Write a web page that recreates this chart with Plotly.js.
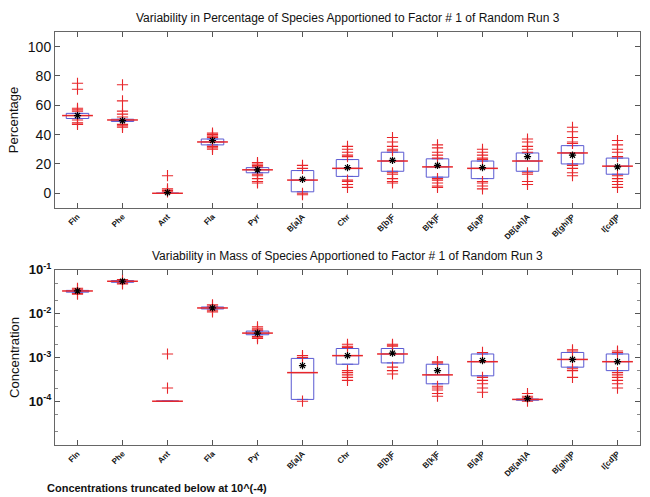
<!DOCTYPE html>
<html>
<head>
<meta charset="utf-8">
<script src="https://cdn.plot.ly/plotly-3.0.1.min.js"></script>
<style>html,body{margin:0;padding:0;background:#fff;}#chart{width:650px;height:497px;}</style>
</head>
<body>
<div id="chart"></div>
<script>
// ---- categories ----
var species = ["Fln","Phe","Ant","Fla","Pyr","B[a]A","Chr","B[b]F","B[k]F","B[a]P","DB[ah]A","B[ghi]P","I[cd]P"];

// ---- top panel: percentage of species ----
var pctQ1     = [51, 49, 0, 33, 14, 1, 11.5, 15, 11, 10, 15, 20, 13];
var pctMedian = [53, 50, 0, 35, 16, 9, 17, 22, 18, 17, 22, 27.5, 18.5];
var pctQ3     = [54.5, 50.5, 0, 37, 17.5, 15.5, 23, 28, 23.5, 22, 27.5, 32.5, 24];
var pctMean   = [53, 49.5, 0.5, 36, 16, 9.5, 17.5, 22.5, 19, 17.5, 25, 26, 18];
var pctOutliers = [
  [75, 71, 58, 57, 56, 50, 48, 47],
  [74, 63, 56, 54, 52, 47, 46, 45],
  [12, 3, 2, 1],
  [41, 40, 39, 38, 32, 31, 30],
  [21, 20, 19, 18, 13, 12, 10, 8, 7],
  [19, 17, 0, -1],
  [32, 30, 28, 26, 25, 9, 8, 6, 4],
  [38, 35, 32, 30, 29, 14, 13, 10, 8, 7],
  [33, 31, 28, 26, 24, 10, 9, 7, 5, 4],
  [30, 28, 26, 24, 23, 8, 7, 5, 3],
  [37, 35, 32, 30, 28, 14, 13, 8, 6],
  [45, 42, 38, 35, 34, 19, 17, 14, 12],
  [36, 33, 30, 28, 25, 12, 10, 8, 6, 4]
];

// ---- bottom panel: mass (concentration) ----
var massQ1     = [0.031, 0.052, 1e-4, 0.0128, 0.0033, 0.00011, 0.0007, 0.00075, 0.00025, 0.00038, 0.000105, 0.0006, 0.0005];
var massMedian = [0.033, 0.055, 1e-4, 0.0135, 0.0036, 0.00045, 0.0011, 0.0012, 0.0004, 0.0008, 0.00011, 0.0009, 0.0008];
var massQ3     = [0.034, 0.057, 1e-4, 0.0142, 0.0040, 0.00095, 0.0016, 0.0016, 0.0007, 0.0012, 0.000112, 0.0013, 0.0012];
var massMean   = [0.033, 0.055, null, 0.0135, 0.0036, 0.00065, 0.0011, 0.00125, 0.0005, 0.00085, 0.000115, 0.0009, 0.0008];
var massOutliers = [
  [0.038, 0.036, 0.029, 0.028],
  [0.060, 0.050, 0.048],
  [0.0012, 0.0002],
  [0.016, 0.015, 0.012, 0.011],
  [0.0050, 0.0045, 0.0042, 0.0030, 0.0029, 0.0027],
  [0.0011, 0.001, 0.0001],
  [0.002, 0.0018, 0.0017, 0.0005, 0.00045, 0.0004, 0.00035, 0.0003],
  [0.002, 0.0019, 0.0018, 0.0006, 0.0005, 0.00042],
  [0.0008, 0.00075, 0.00022, 0.0002, 0.00018, 0.00015, 0.00013],
  [0.0013, 0.00035, 0.0003, 0.00025, 0.0002, 0.00016],
  [0.00015, 0.00013, 0.00012, 0.0001],
  [0.0015, 0.0014, 0.00055, 0.0005, 0.00035],
  [0.0014, 0.0013, 0.00045, 0.0004, 0.00035, 0.0003, 0.00025, 0.0002]
];

// ---- build traces ----
var pos = species.map(function(_, i){ return i + 1; });
var BOX = '#5a5ad2', RED = '#e8262a';

function panel(q1, med, q3, mean, outs, xa, ya) {
  var tr = [];
  tr.push({type:'box', x: pos, q1: q1, median: med, q3: q3, lowerfence: q1, upperfence: q3,
    width: 0.5, fillcolor: 'rgba(255,255,255,0)', line:{color: BOX, width: 1},
    boxpoints: false, hoverinfo:'skip', showlegend:false, xaxis: xa, yaxis: ya});
  var ox = [], oy = [];
  outs.forEach(function(list, i){ list.forEach(function(v){ ox.push(pos[i]); oy.push(v); }); });
  tr.push({type:'scatter', mode:'markers', x: ox, y: oy, xaxis: xa, yaxis: ya, showlegend:false,
    marker:{symbol:'cross-thin', size: 8, color: RED, line:{color: RED, width: 1.1}}});
  tr.push({type:'scatter', mode:'markers', x: pos, y: med, xaxis: xa, yaxis: ya, showlegend:false,
    marker:{symbol:'line-ew', size: 22, color: RED, line:{color: RED, width: 1.5}}});
  tr.push({type:'scatter', mode:'markers', x: pos, y: mean, xaxis: xa, yaxis: ya, showlegend:false,
    marker:{symbol:'asterisk', size: 6, color: '#000', line:{color: '#000', width: 1.2}}});
  return tr;
}

var data = panel(pctQ1, pctMedian, pctQ3, pctMean, pctOutliers, 'x', 'y')
  .concat(panel(massQ1, massMedian, massQ3, massMean, massOutliers, 'x2', 'y2'));

var FONT = 'Liberation Sans, Arial, sans-serif';
var xBase = {range:[0.5, 13.5], tickvals: pos, ticktext: species, tickangle: -45,
  ticks:'inside', ticklen: 5, tickcolor:'#555', mirror:'ticks', showline: true, linecolor:'#666', linewidth: 1,
  showgrid: false, zeroline: false, tickfont:{family: FONT, size: 8, weight: 'bold', color:'#111'}};

var layout = {
  width: 650, height: 497,
  margin:{l:55, r:10, t:32, b:52},
  paper_bgcolor:'#fff', plot_bgcolor:'#fff',
  font:{family: FONT, color:'#111'},
  showlegend: false,
  boxmode: 'overlay',
  xaxis: Object.assign({}, xBase, {anchor:'y'}),
  xaxis2: Object.assign({}, xBase, {anchor:'y2'}),
  yaxis: {domain:[0.574, 1], range:[-10, 110], tickvals:[0,20,40,60,80,100],
    ticks:'inside', ticklen: 5, tickcolor:'#555', mirror:'ticks', showline: true, linecolor:'#666',
    showgrid:false, zeroline:false, tickfont:{family: FONT, size: 14, color:'#111'},
    title:{text:'Percentage', font:{family: FONT, size: 13, color:'#111'}, standoff: 6}},
  yaxis2: {domain:[0, 0.424], type:'log', range:[-5, -1], tickvals:[1e-4, 1e-3, 1e-2, 1e-1],
    ticktext:['10<sup>-4</sup>','10<sup>-3</sup>','10<sup>-2</sup>','10<sup>-1</sup>'],
    ticks:'inside', ticklen: 5, tickcolor:'#555', mirror:'ticks', showline: true, linecolor:'#666',
    minor:{ticks:'inside', ticklen: 3, tickcolor:'#888', dtick:'D2', showgrid:false},
    showgrid:false, zeroline:false, tickfont:{family: FONT, size: 13, color:'#111', weight:'bold'},
    title:{text:'Concentration', font:{family: FONT, size: 13, color:'#111'}, standoff: 6}},
  annotations: [
    {text:'Variability in Percentage of Species Apportioned to Factor # 1 of Random Run 3',
     xref:'paper', yref:'paper', x:0.5, y:1, yshift: 5, xanchor:'center', yanchor:'bottom',
     showarrow:false, font:{family: FONT, size: 12, color:'#111'}},
    {text:'Variability in Mass of Species Apportioned to Factor # 1 of Random Run 3',
     xref:'paper', yref:'paper', x:0.5, y:0.424, yshift: 5, xanchor:'center', yanchor:'bottom',
     showarrow:false, font:{family: FONT, size: 12, color:'#111'}},
    {text:'Concentrations truncated below at 10^(-4)',
     xref:'paper', yref:'paper', x:-0.017, y:-0.104, xanchor:'left', yanchor:'middle',
     showarrow:false, font:{family: FONT, size: 11, color:'#111', weight:'bold'}}
  ]
};

Plotly.newPlot('chart', data, layout, {displayModeBar:false, staticPlot:true});
</script>
</body>
</html>
